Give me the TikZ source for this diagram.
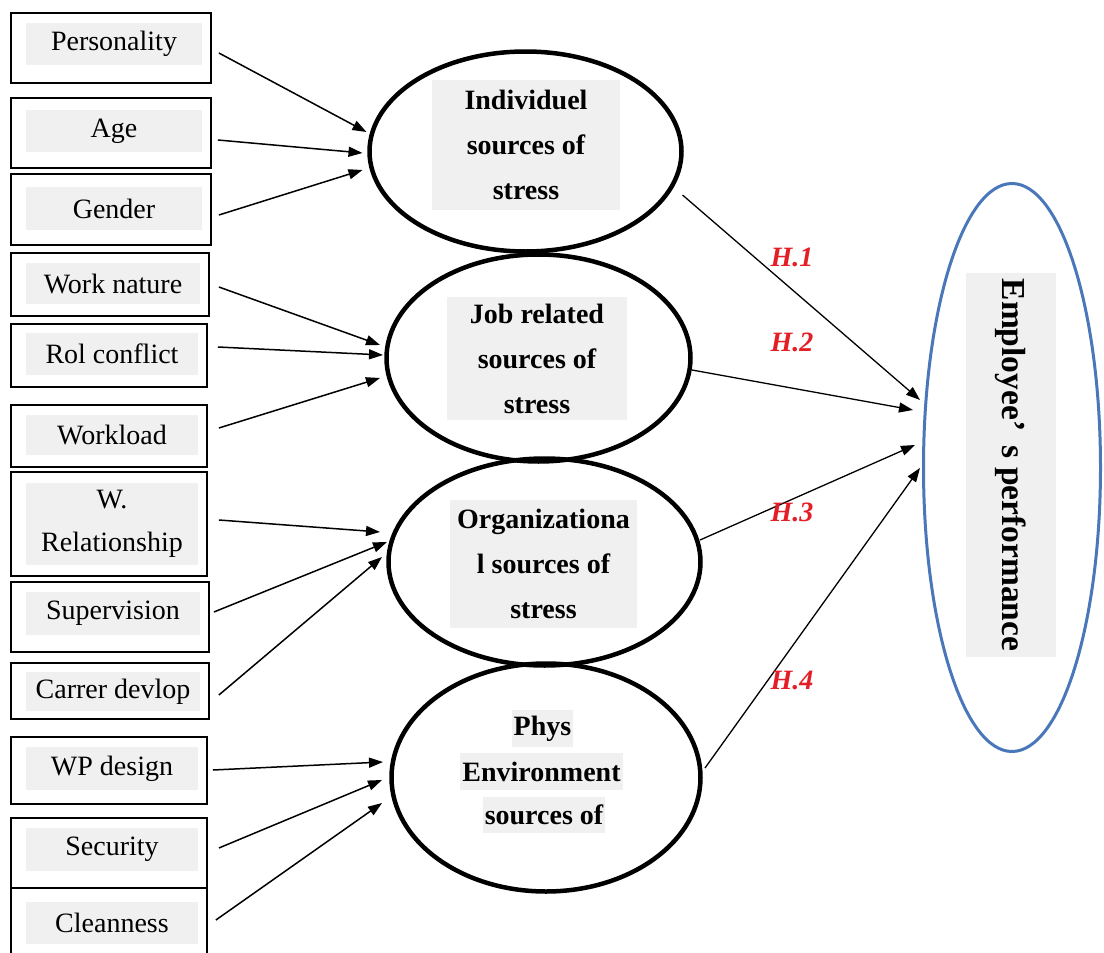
\documentclass[tikz,border=0pt]{standalone}
\usepackage{fontspec}
\setmainfont{Liberation Serif}
\usetikzlibrary{arrows.meta,calc,shapes.geometric}
\definecolor{hlgray}{RGB}{240,240,240}
\definecolor{hred}{RGB}{228,30,38}
\definecolor{eblue}{RGB}{74,119,185}
\tikzset{
  boxst/.style={draw=black, line width=1.8pt, inner sep=0pt, rectangle},
  hlst/.style={fill=hlgray, inner sep=0pt, align=center, font=\fontsize{28}{43}\selectfont},
  ellst/.style={draw=black, line width=4.5pt, ellipse, inner sep=0pt},
  elltxt/.style={fill=hlgray, inner sep=0pt, align=center, font=\fontsize{28}{45}\selectfont\bfseries},
  arr/.style={line width=1.5pt, -{Triangle[length=14pt,width=10pt]}},
  hyp/.style={text=hred, font=\fontsize{28}{32}\selectfont\bfseries\itshape, inner sep=0pt},
}
% #1 name, #2 left, #3 top, #4 right, #5 bottom, #6 gray top, #7 gray bottom, #8 text
\newcommand\leftbox[8]{%
  \node[boxst, minimum width={#4-#2}, minimum height={#5-#3}] (#1) at ({(#2+#4)/2},{(#3+#5)/2}) {};
  \node[hlst, minimum width={#4-#2-24}, minimum height={#7-#6}] (#1t) at ({(#2+15+#4-9)/2},{(#6+#7)/2}) {#8};
}
\begin{document}
\begin{tikzpicture}[x=1pt,y=-1pt]
\useasboundingbox (0,0) rectangle (1104,953);

% left boxes
\leftbox{b1}{11}{13}{211}{83}{23}{65}{Personality}
\leftbox{b2}{11}{98}{211}{168}{110}{152}{Age}
\leftbox{b3}{11}{174}{211}{245}{187}{230}{Gender}
\leftbox{b4}{11}{253}{209}{316}{263}{304}{Work nature}
\leftbox{b5}{11}{324}{207}{387}{333}{375}{Rol conflict}
\leftbox{b6}{11}{405}{207}{467}{415}{455}{Workload}
\leftbox{b7}{11}{472}{207}{576}{483}{565}{W.\\Relationship}
\leftbox{b8}{11}{582}{209}{652}{592}{635}{Supervision}
\leftbox{b9}{11}{663}{209}{719}{672}{711}{Carrer devlop}
\leftbox{b10}{11}{737}{207}{804}{747}{790}{WP design}
\leftbox{b11}{11}{818}{207}{888}{828}{871}{Security}
\leftbox{b12}{11}{888}{207}{964}{902}{944}{Cleanness}

% middle ellipses
\node[ellst, minimum width=312pt, minimum height=200pt] (ind) at (525.5,151.5) {};
\node[ellst, minimum width=304pt, minimum height=207pt] (job) at (538.5,358) {};
\node[ellst, minimum width=312pt, minimum height=207pt] (org) at (544.5,562) {};
\node[ellst, minimum width=309pt, minimum height=228pt] (phys) at (546,777.5) {};

\node[elltxt, minimum width=188pt, minimum height=130pt] (indt) at (526,145) {Individuel\\sources of\\stress};
\node[elltxt, minimum width=180pt, minimum height=123pt] (jobt) at (537,358.5) {Job related\\sources of\\stress};
\node[elltxt, minimum width=187pt, minimum height=128pt] (orgt) at (543.5,564) {Organizationa\\l sources of\\stress};
\node[elltxt, minimum width=61pt, minimum height=37pt] (physa) at (542.5,728.5) {Phys};
\node[elltxt, minimum width=163pt, minimum height=37pt] (physb) at (541.5,771.5) {Environment};
\node[elltxt, minimum width=122pt, minimum height=36pt] (physc) at (544,815) {sources of};

% outcome ellipse
\node[draw=eblue, line width=3pt, ellipse, inner sep=0pt, minimum width=177pt, minimum height=568pt] (emp) at (1012,467.5) {};
\node[fill=hlgray, inner sep=0pt, rotate=-90, minimum width=384pt, minimum height=90pt,
      font=\fontsize{33.5}{38}\selectfont\bfseries] (empt) at (1011,465) {Employee’\hspace{6pt} s performance};

% arrows from left boxes
\draw[arr] ($(b1.east)+(7,5)$) -- ($(ind.center)+(-159,-19.5)$);
\draw[arr] ($(b2.east)+(6,7)$) -- ($(ind.center)+(-163,1.5)$);
\draw[arr] ($(b3.east)+(7,5.5)$) -- ($(ind.center)+(-163,18.5)$);
\draw[arr] ($(b4.east)+(9,2.5)$) -- ($(job.center)+(-158.5,-13)$);
\draw[arr] ($(b5.east)+(10,-8.5)$) -- ($(job.center)+(-155.5,-3)$);
\draw[arr] ($(b6.east)+(11,-8)$) -- ($(job.center)+(-158.5,20)$);
\draw[arr] ($(b7.east)+(11,-4)$) -- ($(org.center)+(-164.5,-30)$);
\draw[arr] ($(b8.east)+(4,-5)$) -- ($(org.center)+(-157.5,-20)$);
\draw[arr] ($(b9.east)+(9,4)$) -- ($(org.center)+(-162.5,-5)$);
\draw[arr] ($(b10.east)+(5,-0.5)$) -- ($(phys.center)+(-163,-15.5)$);
\draw[arr] ($(b11.east)+(11,-5)$) -- ($(phys.center)+(-164,2.5)$);
\draw[arr] ($(b12.east)+(8,-6)$) -- ($(phys.center)+(-164,25.5)$);

% hypothesis arrows
\draw[arr, line width=1.3pt] ($(ind.center)+(157,43.5)$) -- ($(emp.center)+(-92,-67.5)$);
\draw[arr, line width=1.3pt] ($(job.center)+(153.5,12)$) -- ($(emp.center)+(-99,-57.5)$);
\draw[arr, line width=1.3pt] ($(org.center)+(155.5,-22)$) -- ($(emp.center)+(-97,-22.5)$);
\draw[arr, line width=1.3pt] ($(phys.center)+(159,-9.5)$) -- ($(emp.center)+(-92,0.5)$);

\node[hyp] (h1) at (792,257) {H.1};
\node[hyp] (h2) at (792,342) {H.2};
\node[hyp] (h3) at (792,512) {H.3};
\node[hyp] (h4) at (792,680) {H.4};
\end{tikzpicture}
\end{document}
